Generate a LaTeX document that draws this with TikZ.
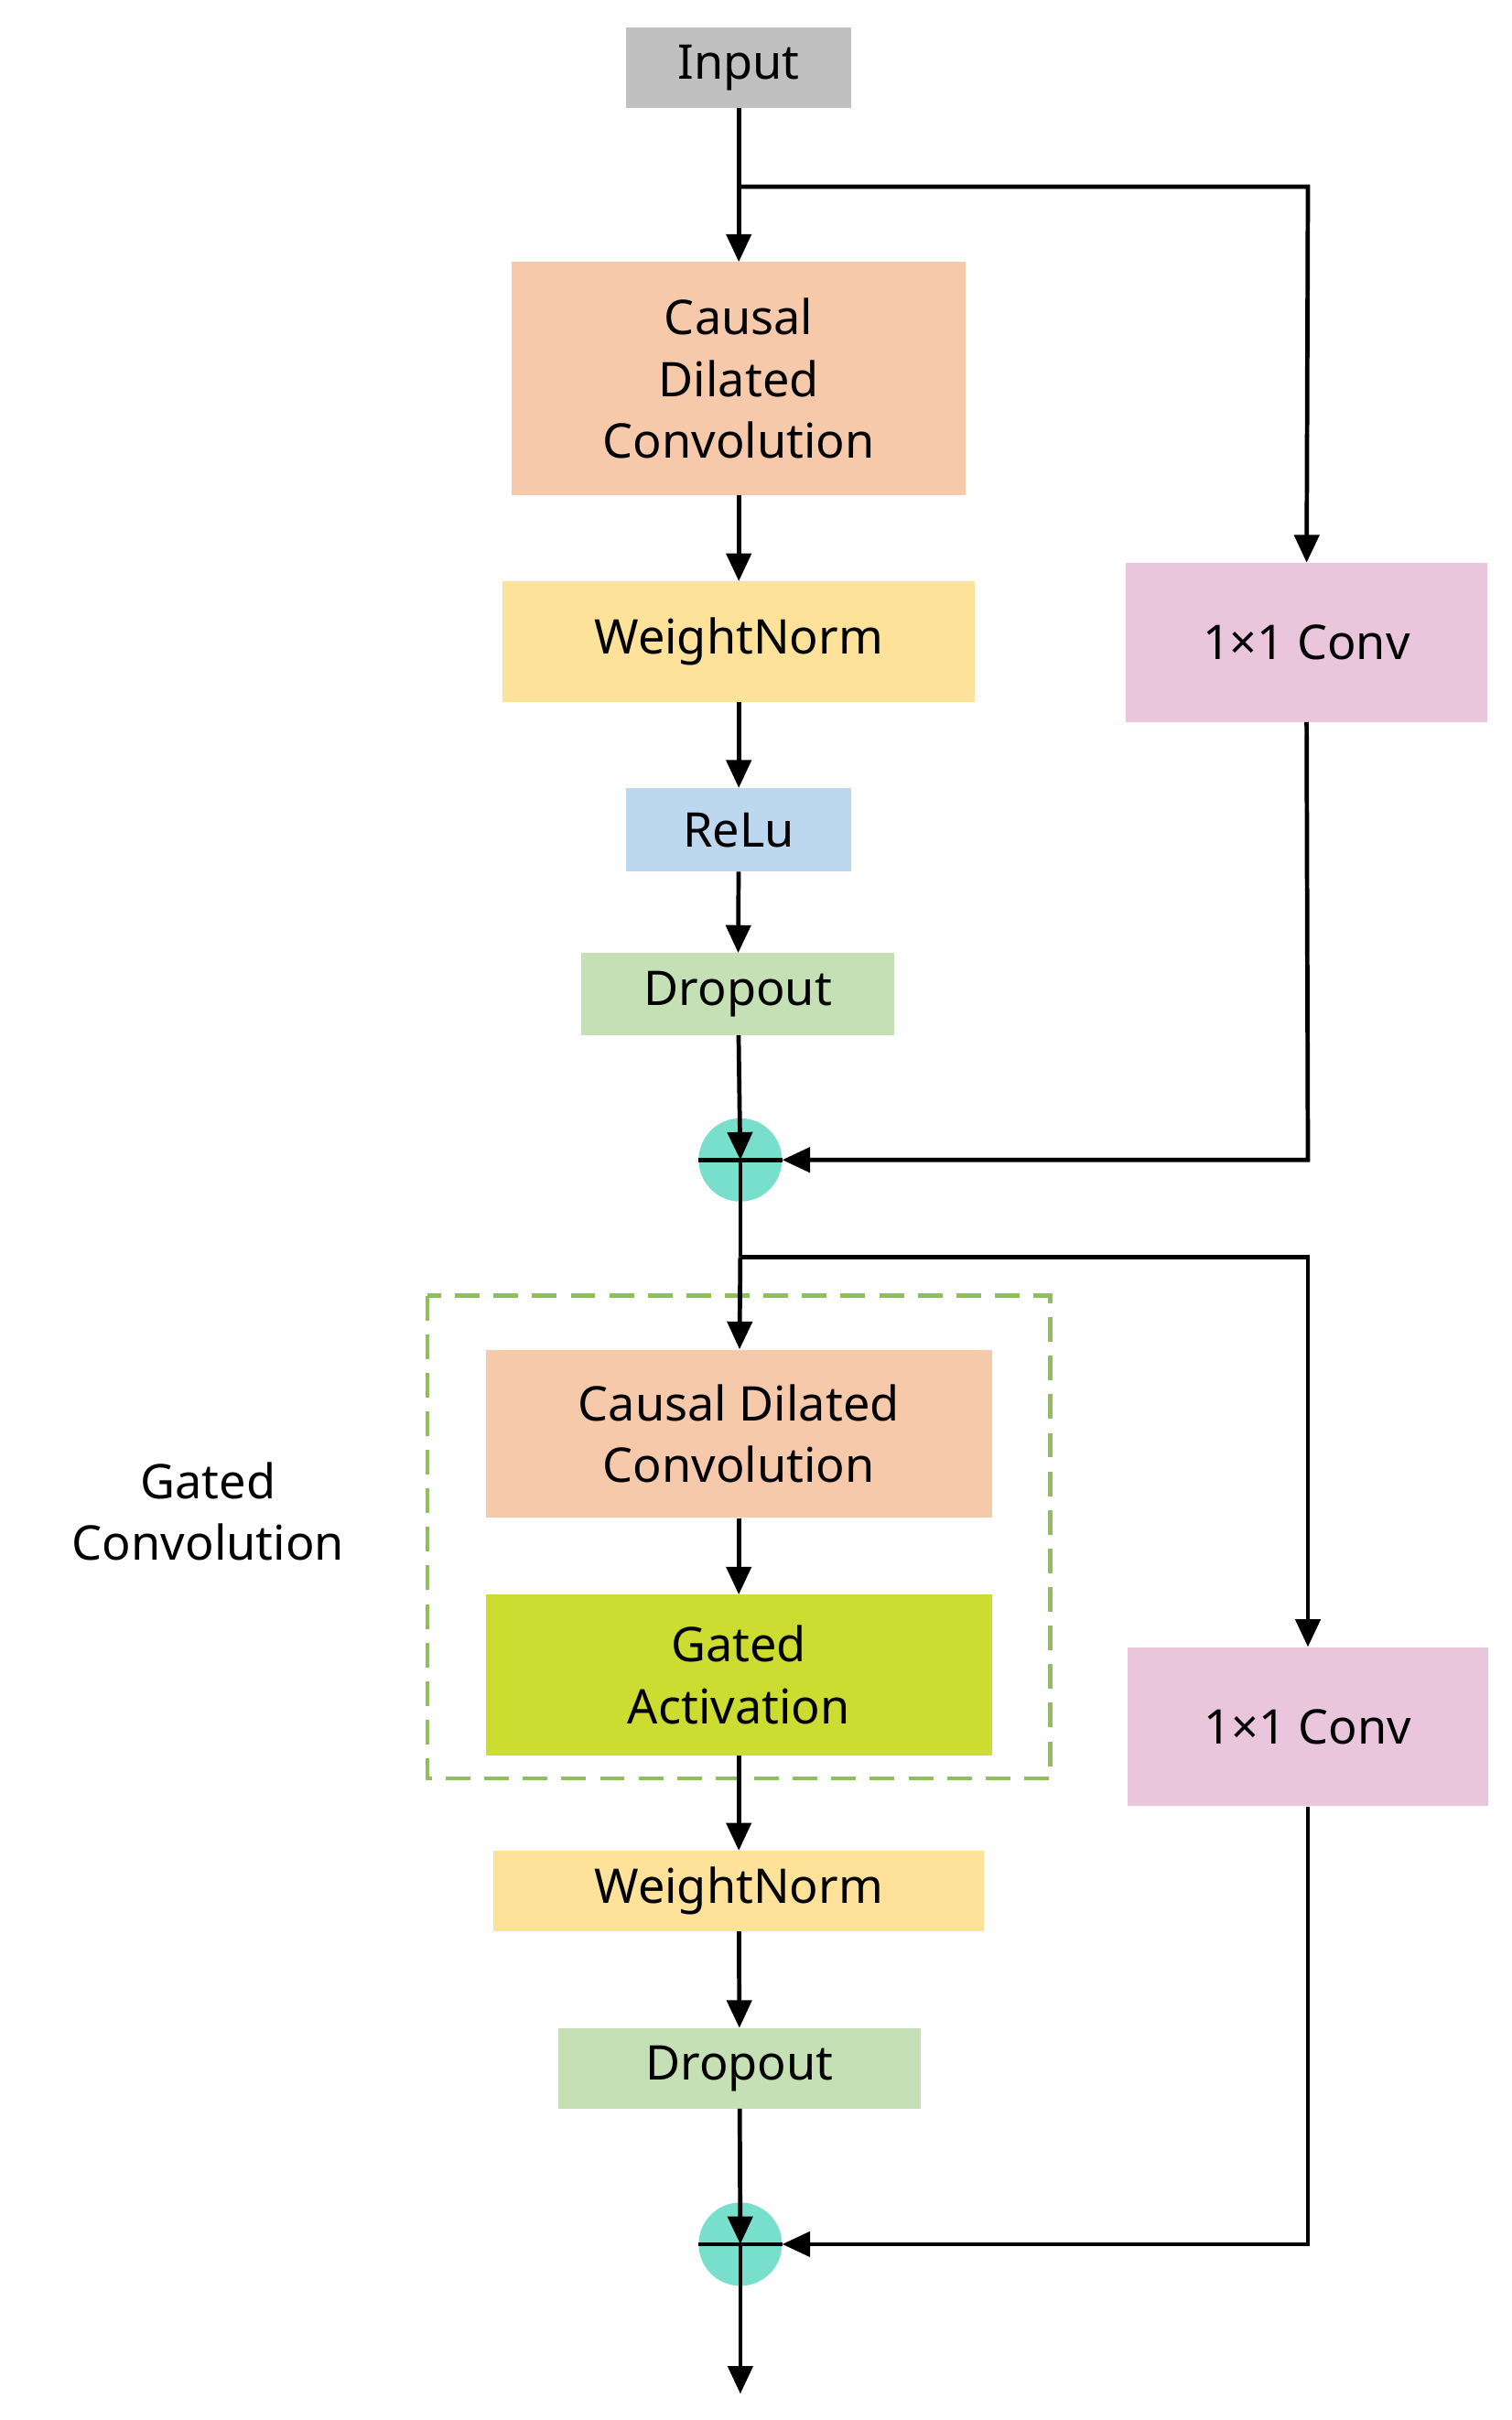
\documentclass[tikz,border=0pt]{standalone}
\usepackage{fontspec}
\setmainfont{Noto Sans}
\usetikzlibrary{arrows.meta}
\begin{document}
\begin{tikzpicture}[x=1pt,y=-1pt,
  box/.style={draw=none,minimum width=#1,inner sep=0,align=center,font=\fontsize{31}{40}\selectfont},
  ar/.style={line width=2.8pt,-{Triangle[length=18pt,width=16pt]}},
  ln/.style={line width=2.8pt}]
\useasboundingbox (0,0) rectangle (980,1569);
\definecolor{cgray}{HTML}{C0C0C0}\definecolor{corange}{HTML}{F7C9AB}
\definecolor{cyel}{HTML}{FFE29A}\definecolor{cblue}{HTML}{BDD7EE}
\definecolor{cgreen}{HTML}{C5E0B4}\definecolor{cteal}{HTML}{77DFCB}
\definecolor{cpink}{HTML}{E9C6DC}\definecolor{clime}{HTML}{CDDC31}
\definecolor{cdash}{HTML}{8FBF5A}
\node[box,fill=cgray,minimum width=146pt,minimum height=52pt] (in) at (479,44) {Input};
\node[box,fill=corange,minimum width=294pt,minimum height=151pt] (cdc1) at (479,245.5) {Causal\\Dilated\\Convolution};
\node[box,fill=cyel,minimum width=306pt,minimum height=78pt] (wn1) at (479,416) {WeightNorm};
\node[box,fill=cblue,minimum width=146pt,minimum height=54pt] (relu) at (479,538) {ReLu};
\node[box,fill=cgreen,minimum width=203pt,minimum height=53pt] (do1) at (478.5,644.5) {Dropout};
\node[circle,fill=cteal,minimum size=54pt,inner sep=0] (p1) at (480,752) {};
\node[box,fill=cpink,minimum width=234pt,minimum height=103pt] (c1) at (847,416.5) {1×1 Conv};
\draw[dashed,cdash,line width=2.5pt,dash pattern=on 16pt off 9pt] (277,840) rectangle (681,1153);
\node[box,fill=corange,minimum width=328pt,minimum height=109pt] (cdc2) at (479,929.5) {Causal Dilated\\Convolution};
\node[box,fill=clime,minimum width=328pt,minimum height=104pt] (ga) at (479,1086) {Gated\\Activation};
\node[box,fill=cyel,minimum width=318pt,minimum height=52pt] (wn2) at (479,1226) {WeightNorm};
\node[box,fill=cgreen,minimum width=235pt,minimum height=52pt] (do2) at (479.5,1341) {Dropout};
\node[circle,fill=cteal,minimum size=54pt,inner sep=0] (p2) at (480,1455) {};
\node[box,fill=cpink,minimum width=234pt,minimum height=103pt] (c2) at (848,1119.5) {1×1 Conv};
\node[box] (gl) at (135,980) {Gated\\Convolution};
\coordinate (out) at (480,1552);
\coordinate (b1) at (480,121); \coordinate (b1r) at (848,121);
\coordinate (j1) at (848,752);
\coordinate (b2) at (480,815); \coordinate (b2r) at (848,815);
\coordinate (j2) at (848,1455);
\draw[ar] (in) -- (cdc1);
\draw[ar] (cdc1) -- (wn1);
\draw[ar] (wn1) -- (relu);
\draw[ar] (relu) -- (do1);
\draw[ar] (do1) -- (p1.center);
\draw[ln] (p1.west) -- (p1.east);
\draw[ar] (b1) -- (b1r) -- (c1);
\draw[ar] (c1) -- (j1) -- (p1.east);
\draw[ln] (p1.center) -- (b2);
\draw[ar] (b2) -- (cdc2);
\draw[ar] (b2) -- (b2r) -- (c2);
\draw[ar] (cdc2) -- (ga);
\draw[ar] (ga) -- (wn2);
\draw[ar] (wn2) -- (do2);
\draw[ar] (do2) -- (p2.center);
\draw[ln] (p2.west) -- (p2.east);
\draw[ar] (c2) -- (j2) -- (p2.east);
\draw[ar] (p2.center) -- (out);
\end{tikzpicture}
\end{document}
